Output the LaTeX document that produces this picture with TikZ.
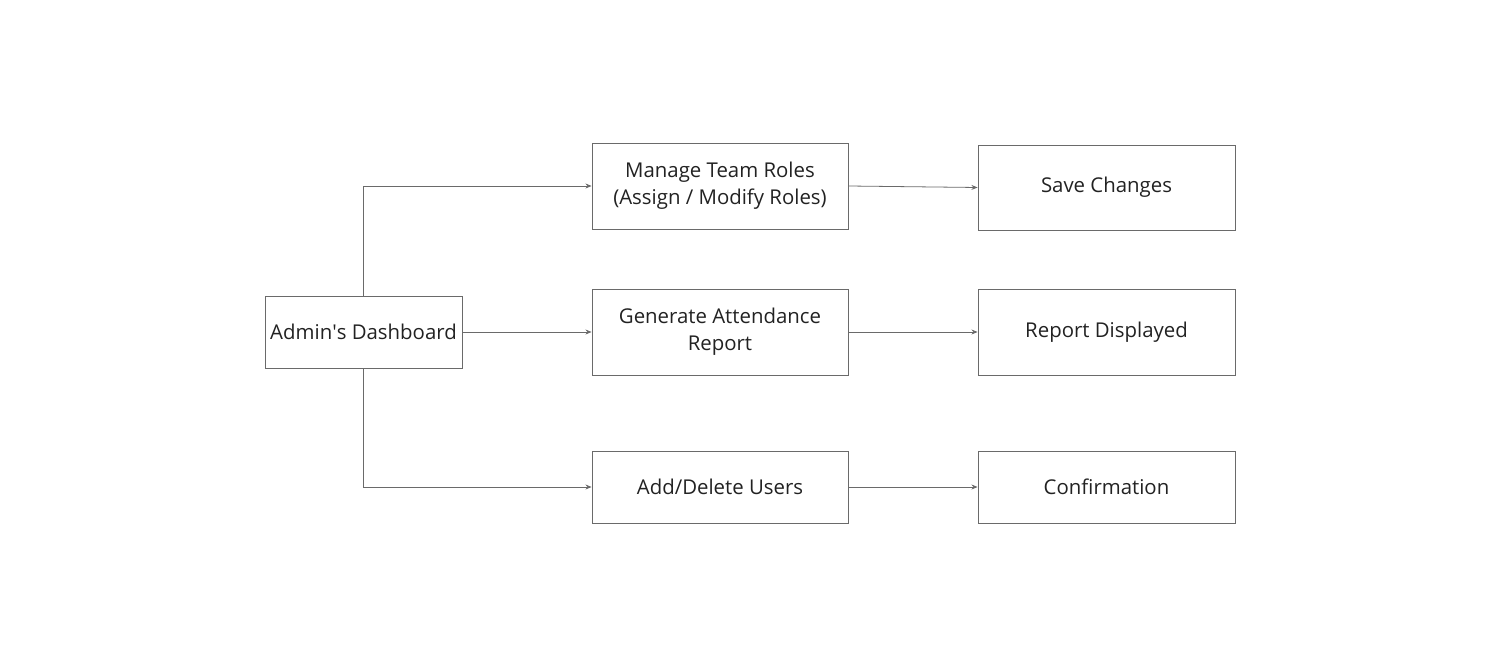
\documentclass[tikz,border=0pt]{standalone}
\usepackage{fontspec}
\setmainfont{Open Sans}
\usepackage{xcolor}
\usepackage{tikz}
\usetikzlibrary{arrows.meta,positioning}

\definecolor{boxline}{HTML}{6A6A6A}
\definecolor{textgray}{HTML}{222222}

\begin{document}
\begin{tikzpicture}[
    box/.style={draw=boxline, line width=0.45pt, align=center, text=textgray,
        font=\fontsize{11.6pt}{15.2pt}\selectfont, inner sep=0pt},
    flow/.style={draw=boxline, line width=0.45pt, -{Stealth[length=3.5pt,width=2.8pt]}}
]
    \useasboundingbox (0,0) rectangle (30.02,13.3);

    % Start
    \node[box, minimum width=3.94cm, minimum height=1.44cm] (admin) at (7.27,6.66) {Admin\textquotesingle s Dashboard};

    % Actions
    \node[box, minimum width=5.12cm, minimum height=1.72cm] (roles) at (14.40,9.58) {Manage Team Roles\\(Assign / Modify Roles)};
    \node[box, minimum width=5.12cm, minimum height=1.72cm] (attend) at (14.40,6.66) {Generate Attendance\\Report};
    \node[box, minimum width=5.12cm, minimum height=1.44cm] (users) at (14.40,3.56) {Add/Delete Users};

    % Outcomes
    \node[box, minimum width=5.14cm, minimum height=1.70cm] (save) at (22.13,9.55) {Save Changes};
    \node[box, minimum width=5.14cm, minimum height=1.72cm] (shown) at (22.13,6.66) {Report Displayed};
    \node[box, minimum width=5.14cm, minimum height=1.44cm] (confirm) at (22.13,3.56) {Confirmation};

    % Connectors
    \draw[flow] (admin.north) |- (roles.west);
    \draw[flow] (admin.east) -- (attend.west);
    \draw[flow] (admin.south) |- (users.west);
    \draw[flow] (roles.east) -- (save.west);
    \draw[flow] (attend.east) -- (shown.west);
    \draw[flow] (users.east) -- (confirm.west);
\end{tikzpicture}
\end{document}
